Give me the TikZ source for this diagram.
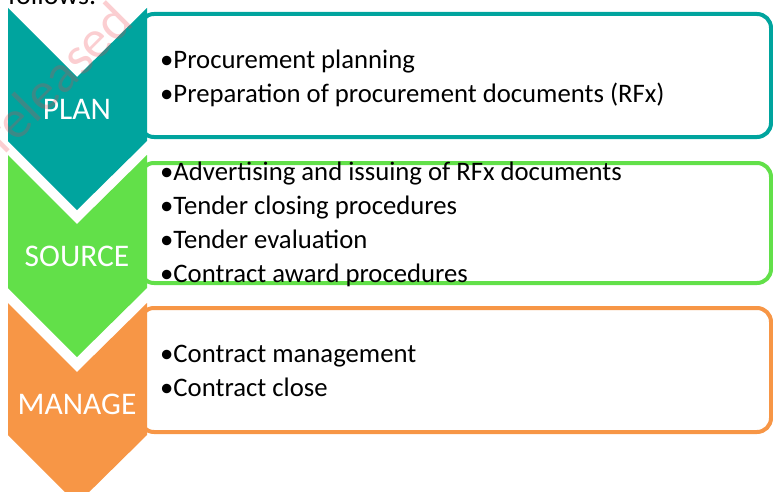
\documentclass[tikz,border=0pt]{standalone}
\usepackage{fontspec}
\setmainfont{Carlito}
\usetikzlibrary{positioning}
\definecolor{plancol}{RGB}{0,164,158}
\definecolor{sourcecol}{RGB}{98,224,73}
\definecolor{managecol}{RGB}{247,150,70}
\definecolor{wmark}{RGB}{240,60,70}
\tikzset{
  stagebox/.style={line width=4pt, fill=white, rounded corners=14pt},
  stagelab/.style={text=white, inner sep=0pt, font=\fontsize{31.5}{36}\selectfont},
  items/.style={anchor=west, align=left, inner sep=0pt, font=\fontsize{26.7}{34}\selectfont},
}

\begin{document}
\begin{tikzpicture}[x=1pt,y=-1pt]
  \useasboundingbox (0,0) rectangle (773,492);
  \clip (0,0) rectangle (773,492);
  \node[anchor=base west, inner sep=0pt, font=\fontsize{28}{30}\selectfont] (lead) at (8,5) {follows.};

  % plan stage
  \draw[stagebox, draw=plancol] (140,14) rectangle (771,137);
  \fill[plancol] (8,8) -- (77,77) -- (147,8) -- (147,141) -- (77,210) -- (8,141) -- cycle;
  \node[stagelab] (plan) at (77,109) {PLAN};
  \node[items] (planitems) at (160,78)
    {•Procurement planning\\•Preparation of procurement documents (RFx)};

  % source stage
  \draw[stagebox, draw=sourcecol] (140,163) rectangle (771,283);
  \fill[sourcecol] (8,155) -- (77,224) -- (147,155) -- (147,288) -- (77,357) -- (8,288) -- cycle;
  \node[stagelab] (source) at (77,256) {SOURCE};
  \node[items] (sourceitems) at (160,224)
    {•Advertising and issuing of RFx documents\\•Tender closing procedures\\
     •Tender evaluation\\•Contract award procedures};

  % manage stage
  \draw[stagebox, draw=managecol] (140,308) rectangle (771,432);
  \fill[managecol] (8,303) -- (77,372) -- (147,303) -- (147,435) -- (77,504) -- (8,435) -- cycle;
  \node[stagelab] (manage) at (77,404) {MANAGE};
  \node[items] (manageitems) at (160,371)
    {•Contract management\\•Contract close};

  % watermark
  \node[anchor=base west, rotate=45, inner sep=0pt, text=wmark, opacity=0.25,
        font=\fontsize{54}{54}\selectfont] (stamp) at (4,156) {released};
\end{tikzpicture}
\end{document}
